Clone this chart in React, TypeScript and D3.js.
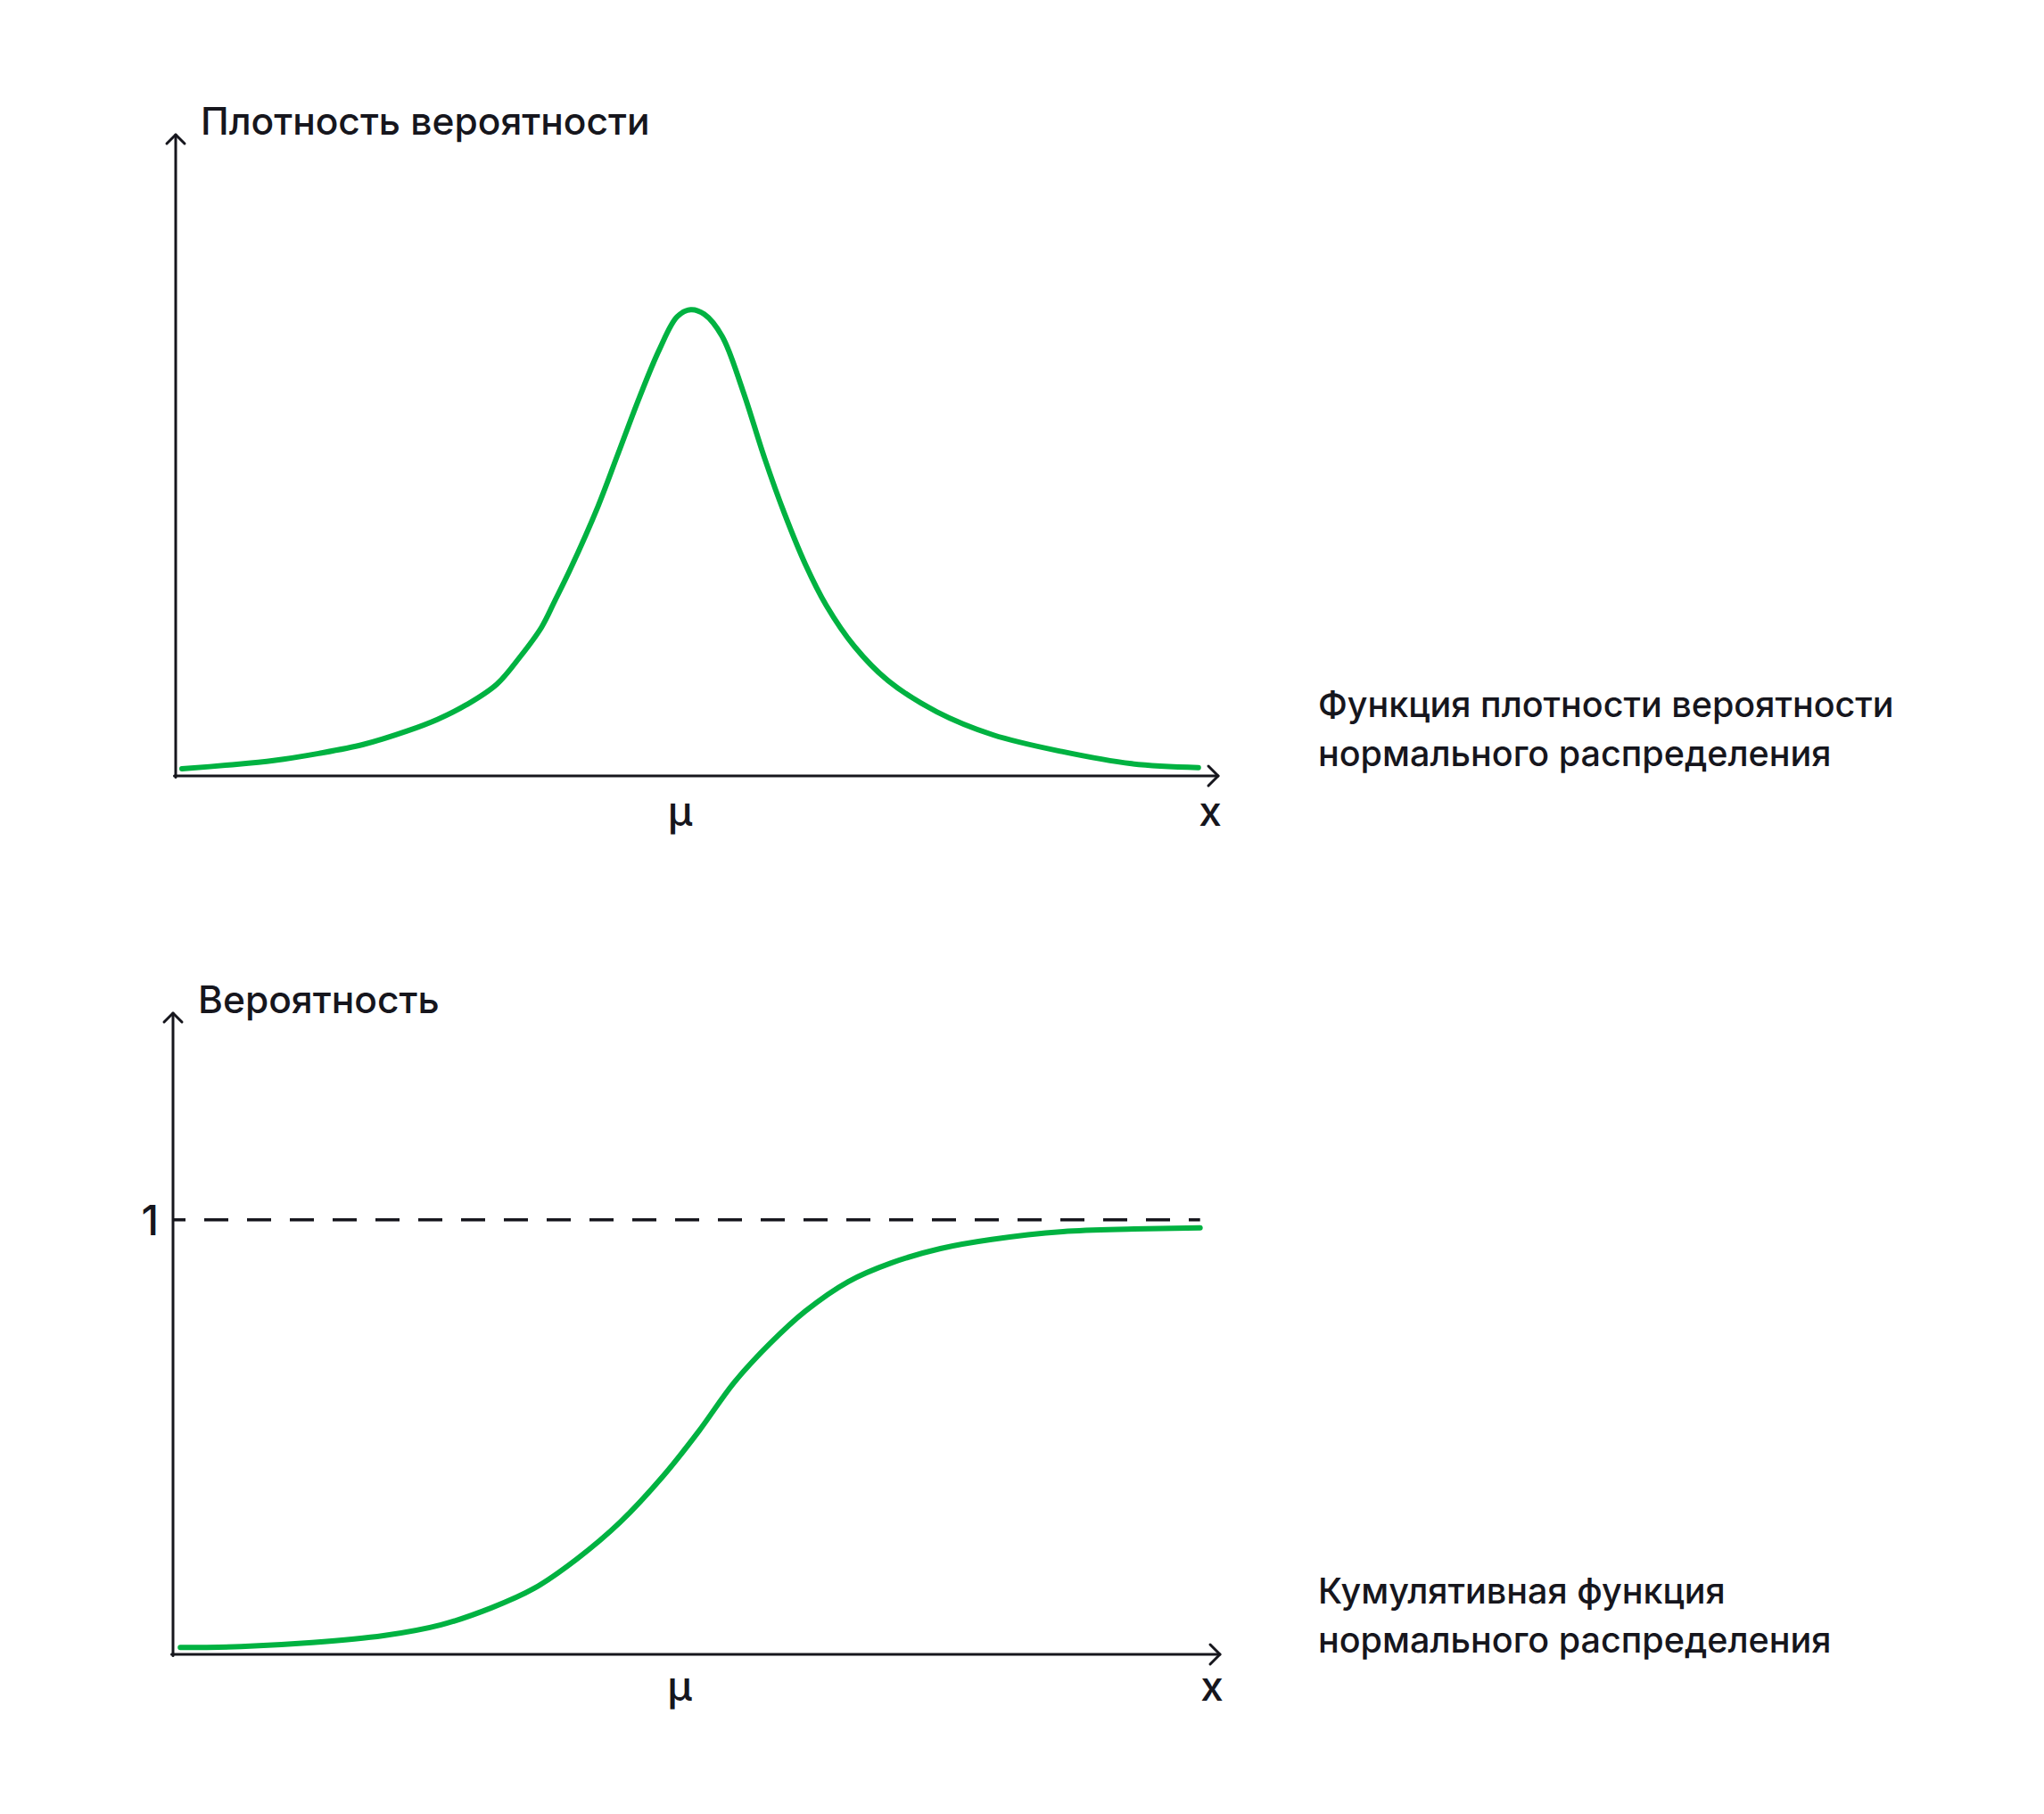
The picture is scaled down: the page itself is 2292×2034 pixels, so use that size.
import * as d3 from "d3";

// density curve (x in σ-ish units, y as share of the axis height)
const densityX = [-4.94, -4.49, -4.06, -3.63, -3.20, -2.78, -2.49, -2.21, -1.92, -1.70, -1.49, -1.36, -1.21, -0.95, -0.76, -0.55, -0.36, -0.19, -0.06, 0.07, 0.24, 0.44, 0.65, 0.84, 1.04, 1.24, 1.51, 1.83, 2.30, 2.84, 3.50, 4.17, 4.81];
const densityY = [0.011, 0.017, 0.024, 0.035, 0.049, 0.070, 0.088, 0.111, 0.143, 0.185, 0.232, 0.274, 0.324, 0.420, 0.501, 0.591, 0.665, 0.716, 0.727, 0.720, 0.686, 0.601, 0.495, 0.409, 0.330, 0.266, 0.202, 0.149, 0.100, 0.064, 0.038, 0.019, 0.013];

// cumulative curve
const cdfX = [-4.93, -4.35, -3.67, -2.99, -2.44, -1.96, -1.55, -1.14, -0.73, -0.32, 0.02, 0.36, 0.70, 1.04, 1.45, 1.86, 2.33, 2.82, 3.50, 4.18, 4.81];
const cdfY = [0.016, 0.018, 0.027, 0.043, 0.068, 0.107, 0.152, 0.220, 0.304, 0.410, 0.513, 0.626, 0.715, 0.790, 0.858, 0.901, 0.934, 0.955, 0.973, 0.979, 0.982];

const MU = -0.06;
const X_DOMAIN = [-5, 5];
const DENSITY_Y_MAX = 1;
const CDF_Y_MAX = 1.476;
const CDF_LIMIT = 1;

const densityTitle = "Плотность вероятности";
const cdfTitle = "Вероятность";
const densityCaption = ["Функция плотности вероятности", "нормального распределения"];
const cdfCaption = ["Кумулятивная функция", "нормального распределения"];
const muLabel = "μ";
const xLabel = "x";
const limitLabel = "1";

const GREEN = "#00b241";
const INK = "#16161d";
const FONT = "Inter, 'Noto Sans', sans-serif";

interface PanelProps {
    left: number,
    right: number,
    top: number,
    bottom: number,
    xs: number[],
    ys: number[],
    yMax: number,
    title: string,
    caption: string[],
    captionY: number,
    labelDy: number,
    limit?: number,
}

const Panel = ({ left, right, top, bottom, xs, ys, yMax, title, caption, captionY, labelDy, limit }: PanelProps) => {
    const x = d3.scaleLinear().domain(X_DOMAIN).range([left, right]);
    const y = d3.scaleLinear().domain([0, yMax]).range([bottom, top]);
    const points: [number, number][] = xs.map((d, i) => [d, ys[i]]);
    const line = d3.line<[number, number]>()
        .x(d => x(d[0]))
        .y(d => y(d[1]))
        .curve(d3.curveCatmullRom.alpha(0.5));
    const lastX = xs[xs.length - 1];

    return (
        <g>
            {/* axes with open arrow heads */}
            <g stroke={INK} strokeWidth={3} fill="none" strokeLinecap="round" strokeLinejoin="round">
                <line x1={left} x2={left} y1={bottom + 1.5} y2={top} />
                <line x1={left - 1.5} x2={right} y1={bottom} y2={bottom} />
                <path d={`M${left - 10},${top + 10}L${left},${top}L${left + 10},${top + 10}`} />
                <path d={`M${right - 11},${bottom - 11}L${right},${bottom}L${right - 11},${bottom + 11}`} />
            </g>
            { limit !== undefined &&
                <>
                    <line
                        x1={left}
                        x2={x(lastX)}
                        y1={y(limit)}
                        y2={y(limit)}
                        stroke={INK}
                        strokeWidth={3.5}
                        strokeDasharray="27 21"
                        strokeDashoffset={13}
                    />
                    <text x={left - 16} y={y(limit) + 17} textAnchor="end" fontSize={47} fontWeight={500} fill={INK}>{limitLabel}</text>
                </>
            }
            <path d={line(points) ?? ""} fill="none" stroke={GREEN} strokeWidth={6} strokeLinecap="round" strokeLinejoin="round" />
            <text x={left + 28} y={top} fontSize={42.5} fontWeight={500} fill={INK}>{title}</text>
            <text x={x(MU) - 12} y={bottom + labelDy} textAnchor="middle" fontSize={46} fontWeight={500} fill={INK}>{muLabel}</text>
            <text x={right - 9} y={bottom + labelDy} textAnchor="middle" fontSize={46} fontWeight={500} fill={INK}>{xLabel}</text>
            { caption.map((c, i) => (
                <text key={i} x={1478} y={captionY + i * 55} fontSize={39.5} fontWeight={500} fill={INK}>{c}</text>
            )) }
        </g>
    );
};

export default function App() {
    return (
        <svg
            width={2292}
            height={2034}
            style={{ position: "absolute", left: 0, top: 0, background: "#fff", fontFamily: FONT }}
        >
            <Panel
                left={197} right={1366} top={151} bottom={870}
                xs={densityX} ys={densityY} yMax={DENSITY_Y_MAX}
                title={densityTitle} caption={densityCaption} captionY={804} labelDy={56}
            />
            <Panel
                left={194} right={1368} top={1136} bottom={1855}
                xs={cdfX} ys={cdfY} yMax={CDF_Y_MAX}
                title={cdfTitle} caption={cdfCaption} captionY={1798} labelDy={52}
                limit={CDF_LIMIT}
            />
        </svg>
    );
}
